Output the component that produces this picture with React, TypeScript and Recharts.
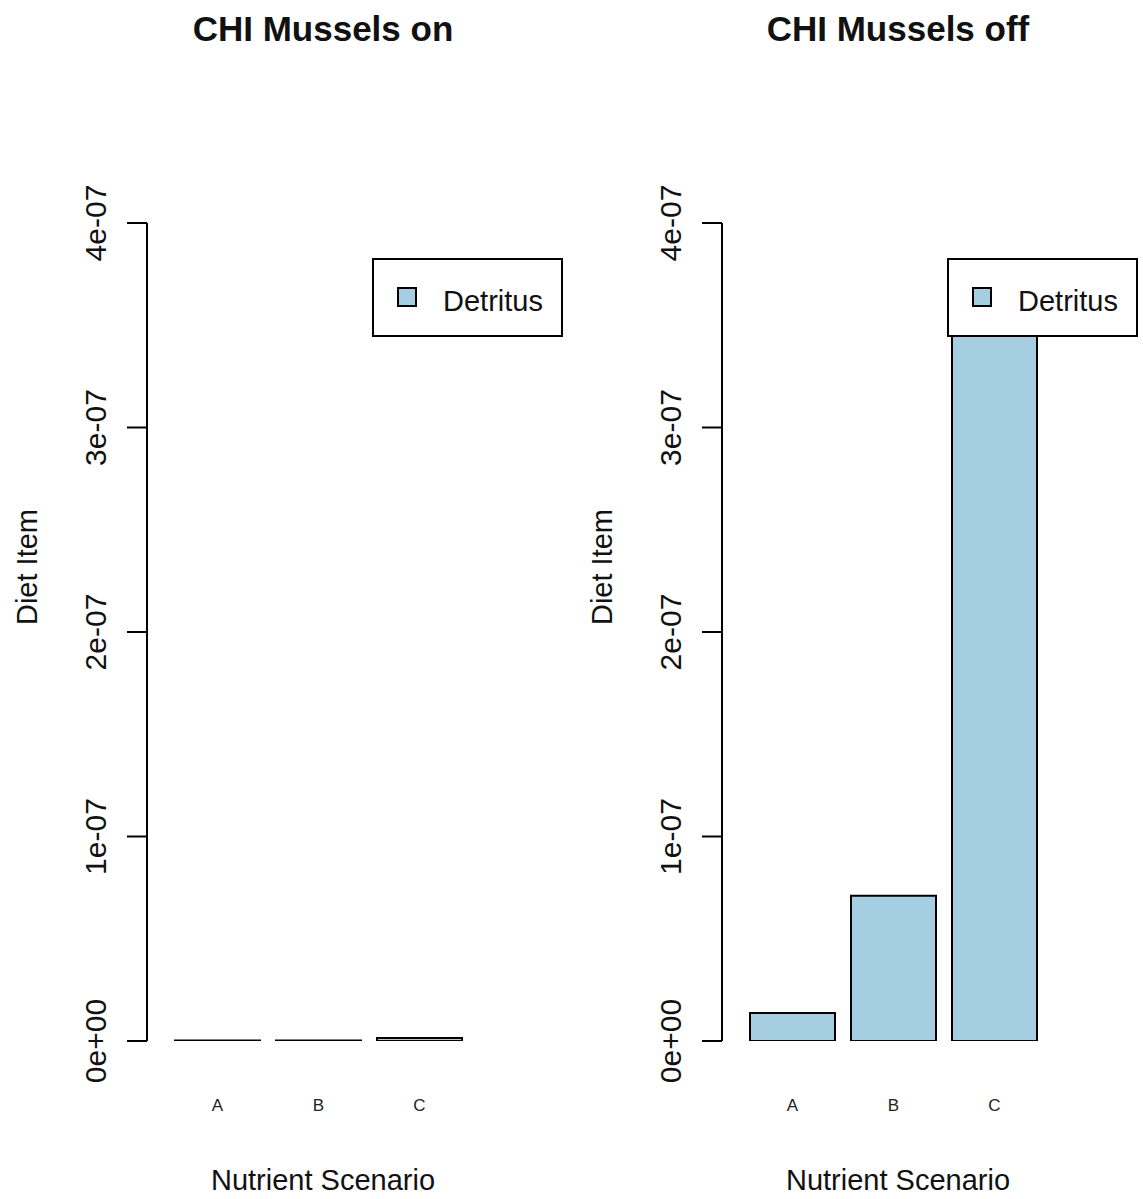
import React from 'react';
import { BarChart, Bar, XAxis, YAxis, Legend } from 'recharts';

// Diet item contribution (Detritus) per nutrient scenario
const categories = ['A', 'B', 'C'];
const musselsOn = [2e-10, 2e-10, 1.5e-9];
const musselsOff = [1.37e-8, 7.1e-8, 3.6e-7];
const yTicks = [0, 1e-7, 2e-7, 3e-7, 4e-7];
const yTickLabels = ['0e+00', '1e-07', '2e-07', '3e-07', '4e-07'];
const seriesName = 'Detritus';

const FONT = '"Liberation Sans", Arial, Helvetica, sans-serif';
const FILL = '#a6cee3';
const PANEL_W = 575;
const CHART_W = 568;
const CHART_H = 1199;

const YTick = (props: any) => {
  const { y, payload } = props;
  const idx = yTicks.indexOf(payload.value);
  const label = idx >= 0 ? yTickLabels[idx] : String(payload.value);
  return (
    <text
      x={95}
      y={y}
      transform={`rotate(-90 95 ${y})`}
      textAnchor="middle"
      dominantBaseline="central"
      fontSize={30}
      fontFamily={FONT}
      fill="#111"
    >
      {label}
    </text>
  );
};

const CatTick = (props: any) => {
  const { x, payload } = props;
  return (
    <text
      x={x}
      y={1105}
      textAnchor="middle"
      dominantBaseline="central"
      fontSize={17}
      fontFamily={FONT}
      fill="#222"
    >
      {payload.value}
    </text>
  );
};

const LegendBox = () => (
  <svg width={192} height={80} style={{ display: 'block', overflow: 'visible' }}>
    <rect x={1} y={1} width={189} height={77} fill="#fff" stroke="#000" strokeWidth={2} />
    <rect x={26} y={30} width={18} height={18} fill={FILL} stroke="#000" strokeWidth={2} />
    <text x={71} y={43} dominantBaseline="central" fontSize={29} fontFamily={FONT} fill="#111">
      {seriesName}
    </text>
  </svg>
);

type PanelProps = { title: string; values: number[]; left: number };

const Panel = ({ title, values, left }: PanelProps) => {
  const data = categories.map((c, i) => ({ cat: c, value: values[i] }));
  return (
    <div style={{ position: 'absolute', left, top: 0, width: PANEL_W, height: CHART_H }}>
      <div
        style={{
          position: 'absolute',
          left: 73,
          top: 8,
          width: 500,
          textAlign: 'center',
          fontFamily: FONT,
          fontWeight: 'bold',
          fontSize: 35,
          lineHeight: '42px',
          color: '#111',
          whiteSpace: 'nowrap',
        }}
      >
        {title}
      </div>
      <BarChart
        width={CHART_W}
        height={CHART_H}
        data={data}
        margin={{ top: 223, right: 69, bottom: 0, left: 0 }}
        barSize={85}
      >
        <XAxis
          dataKey="cat"
          axisLine={false}
          tickLine={false}
          height={158}
          padding={{ left: 20, right: 29 }}
          interval={0}
          tick={<CatTick />}
          label={{
            content: () => (
              <text
                x={323}
                y={1180}
                textAnchor="middle"
                dominantBaseline="central"
                fontSize={29}
                fontFamily={FONT}
                fill="#111"
              >
                Nutrient Scenario
              </text>
            ),
          }}
        />
        <YAxis
          type="number"
          domain={[0, 4e-7]}
          ticks={yTicks}
          allowDataOverflow
          width={147}
          tickSize={20}
          axisLine={{ stroke: '#000', strokeWidth: 2 }}
          tickLine={{ stroke: '#000', strokeWidth: 2 }}
          tick={<YTick />}
          label={{
            content: () => (
              <text
                x={27}
                y={567}
                transform="rotate(-90 27 567)"
                textAnchor="middle"
                dominantBaseline="central"
                fontSize={29}
                fontFamily={FONT}
                fill="#111"
              >
                Diet Item
              </text>
            ),
          }}
        />
        <Bar
          dataKey="value"
          name={seriesName}
          fill={FILL}
          stroke="#000"
          strokeWidth={2}
          isAnimationActive={false}
        />
        <Legend
          layout="vertical"
          align="center"
          verticalAlign="middle"
          content={() => <LegendBox />}
          wrapperStyle={{ left: 372, top: 258, width: 192, height: 80, right: 'auto', bottom: 'auto' }}
        />
      </BarChart>
    </div>
  );
};

export default function App() {
  return (
    <div
      style={{
        position: 'absolute',
        left: 0,
        top: 0,
        width: 1143,
        height: 1199,
        background: '#fff',
        overflow: 'hidden',
      }}
    >
      <Panel title="CHI Mussels on" values={musselsOn} left={0} />
      <Panel title="CHI Mussels off" values={musselsOff} left={PANEL_W} />
    </div>
  );
}
